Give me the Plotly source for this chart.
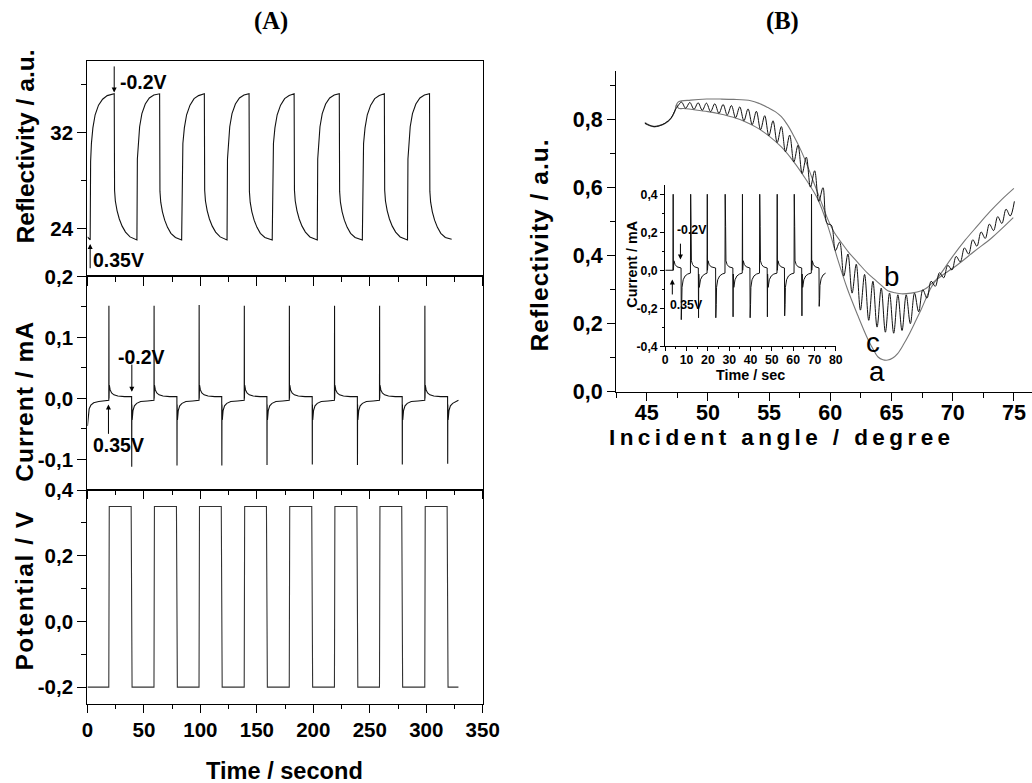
import plotly.graph_objects as go

# The photographed page is drawn at about 0.975 scale with an 8 px page margin,
# so layout positions are given in reference-picture pixels and mapped back.
S, M = 0.975, 8.0
W, H = 1050, 795

# ---------------- Panel A (top): reflectivity vs time ----------------
refl_t = [0.0, 1.2, 2.4, 2.8, 3.5, 4.8, 6.8, 9.8, 13.4, 17.5, 23.7,
          24.0, 24.7, 26.2, 28.2, 30.7, 33.7, 37.7, 43.8,
          44.2, 44.9, 46.2, 48.2, 51.2, 54.8, 58.8, 63.9,
          64.2, 64.9, 66.4, 68.4, 70.9, 73.9, 77.9, 83.4,
          83.8, 84.5, 85.8, 87.8, 90.8, 94.4, 98.4, 103.5,
          103.8, 104.5, 106.0, 108.0, 110.5, 113.5, 117.5, 123.6,
          124.0, 124.7, 126.0, 128.0, 131.0, 134.6, 138.6, 143.1,
          143.4, 144.1, 145.6, 147.6, 150.1, 153.1, 157.1, 163.6,
          164.0, 164.7, 166.0, 168.0, 171.0, 174.6, 178.6, 183.0,
          183.3, 184.0, 185.5, 187.5, 190.0, 193.0, 197.0, 203.5,
          203.9, 204.6, 205.9, 207.9, 210.9, 214.5, 218.5, 223.0,
          223.3, 224.0, 225.5, 227.5, 230.0, 233.0, 237.0, 243.4,
          243.8, 244.5, 245.8, 247.8, 250.8, 254.4, 258.4, 262.9,
          263.2, 263.9, 265.4, 267.4, 269.9, 272.9, 276.9, 283.4,
          283.8, 284.5, 285.8, 287.8, 290.8, 294.4, 298.4, 302.9,
          303.2, 303.9, 305.4, 307.4, 309.9, 312.9, 316.9, 322.5]
refl_v = [23.3, 23.15, 23.05, 29.6, 31.1, 32.4, 33.5, 34.3, 34.8, 35.1, 35.25,
          27.2, 26.3, 25.5, 24.8, 24.2, 23.7, 23.3, 23.05,
          29.8, 31.2, 32.5, 33.6, 34.4, 34.9, 35.15, 35.25,
          27.1, 26.2, 25.4, 24.7, 24.1, 23.6, 23.25, 23.05,
          29.7, 31.1, 32.4, 33.5, 34.3, 34.85, 35.1, 35.25,
          27.2, 26.3, 25.5, 24.8, 24.2, 23.7, 23.3, 23.05,
          29.8, 31.2, 32.5, 33.6, 34.4, 34.9, 35.15, 35.25,
          27.1, 26.2, 25.4, 24.7, 24.1, 23.6, 23.25, 23.05,
          29.7, 31.1, 32.4, 33.5, 34.3, 34.85, 35.1, 35.25,
          27.2, 26.3, 25.5, 24.8, 24.2, 23.7, 23.3, 23.05,
          29.8, 31.2, 32.5, 33.6, 34.4, 34.9, 35.15, 35.25,
          27.1, 26.2, 25.4, 24.7, 24.1, 23.6, 23.25, 23.05,
          29.7, 31.1, 32.4, 33.5, 34.3, 34.85, 35.1, 35.25,
          27.2, 26.3, 25.5, 24.8, 24.2, 23.7, 23.3, 23.05,
          29.8, 31.2, 32.5, 33.6, 34.4, 34.9, 35.15, 35.25,
          27.1, 26.2, 25.4, 24.7, 24.1, 23.6, 23.25, 23.1]

# ---------------- Panel A (middle): current vs time ----------------
cur_t = [0.0, 0.6, 1.5, 3.0, 5.5, 10.0, 15.0, 18.9,
         19.0, 19.1, 19.2, 19.35, 20.1, 21.4, 23.4, 26.9, 32.9, 39.1,
         39.2, 39.3, 39.4, 39.6, 40.3, 41.6, 43.6, 47.1, 53.1, 58.9,
         59.0, 59.1, 59.2, 59.35, 60.1, 61.4, 63.4, 66.9, 72.9, 79.2,
         79.3, 79.4, 79.5, 79.7, 80.4, 81.7, 83.7, 87.2, 93.2, 98.8,
         98.9, 99.0, 99.1, 99.25, 100.0, 101.3, 103.3, 106.8, 112.8, 118.9,
         119.0, 119.1, 119.2, 119.4, 120.1, 121.4, 123.4, 126.9, 132.9, 138.8,
         138.9, 139.0, 139.1, 139.25, 140.0, 141.3, 143.3, 146.8, 152.8, 158.9,
         159.0, 159.1, 159.2, 159.4, 160.1, 161.4, 163.4, 166.9, 172.9, 178.7,
         178.8, 178.9, 179.0, 179.15, 179.9, 181.2, 183.2, 186.7, 192.7, 199.0,
         199.1, 199.2, 199.3, 199.5, 200.2, 201.5, 203.5, 207.0, 213.0, 218.7,
         218.8, 218.9, 219.0, 219.15, 219.9, 221.2, 223.2, 226.7, 232.7, 239.0,
         239.1, 239.2, 239.3, 239.5, 240.2, 241.5, 243.5, 247.0, 253.0, 258.6,
         258.7, 258.8, 258.9, 259.05, 259.8, 261.1, 263.1, 266.6, 272.6, 278.7,
         278.8, 278.9, 279.0, 279.2, 279.9, 281.2, 283.2, 286.7, 292.7, 298.7,
         298.8, 298.9, 299.0, 299.15, 299.9, 301.2, 303.2, 306.7, 312.7, 318.9,
         319.0, 319.1, 319.2, 319.4, 320.1, 321.4, 323.4, 326.0, 328.5]
cur_v = [-0.045, -0.026, -0.017, -0.011, -0.007, -0.005, -0.004, -0.003,
         0.152, 0.0, 0.09, 0.022, 0.014, 0.009, 0.006, 0.004, 0.003, 0.003,
         -0.112, -0.01, -0.05, -0.035, -0.02, -0.012, -0.008, -0.005, -0.004, -0.003,
         0.152, 0.0, 0.09, 0.022, 0.014, 0.009, 0.006, 0.004, 0.003, 0.003,
         -0.11, -0.01, -0.05, -0.035, -0.02, -0.012, -0.008, -0.005, -0.004, -0.003,
         0.153, 0.0, 0.09, 0.022, 0.014, 0.009, 0.006, 0.004, 0.003, 0.003,
         -0.11, -0.01, -0.05, -0.035, -0.02, -0.012, -0.008, -0.005, -0.004, -0.003,
         0.152, 0.0, 0.09, 0.022, 0.014, 0.009, 0.006, 0.004, 0.003, 0.003,
         -0.109, -0.01, -0.05, -0.035, -0.02, -0.012, -0.008, -0.005, -0.004, -0.003,
         0.152, 0.0, 0.09, 0.022, 0.014, 0.009, 0.006, 0.004, 0.003, 0.003,
         -0.108, -0.01, -0.05, -0.035, -0.02, -0.012, -0.008, -0.005, -0.004, -0.003,
         0.152, 0.0, 0.09, 0.022, 0.014, 0.009, 0.006, 0.004, 0.003, 0.003,
         -0.109, -0.01, -0.05, -0.035, -0.02, -0.012, -0.008, -0.005, -0.004, -0.003,
         0.152, 0.0, 0.09, 0.022, 0.014, 0.009, 0.006, 0.004, 0.003, 0.003,
         -0.108, -0.01, -0.05, -0.035, -0.02, -0.012, -0.008, -0.005, -0.004, -0.003,
         0.152, 0.0, 0.09, 0.022, 0.014, 0.009, 0.006, 0.004, 0.003, 0.003,
         -0.107, -0.01, -0.05, -0.035, -0.02, -0.012, -0.008, -0.005, -0.003]

# ---------------- Panel A (bottom): potential vs time ----------------
pot_t = [0.0, 18.9, 19.3, 38.7, 39.5, 58.9, 59.3, 78.8, 79.6, 98.8, 99.2, 118.5,
         119.3, 138.8, 139.2, 158.5, 159.3, 178.7, 179.1, 198.6, 199.4, 218.7,
         219.1, 238.6, 239.4, 258.6, 259.0, 278.3, 279.1, 298.7, 299.1, 318.5,
         319.3, 328.5]
pot_v = [-0.2, -0.2, 0.35, 0.35, -0.2, -0.2, 0.35, 0.35, -0.2, -0.2, 0.35, 0.35,
         -0.2, -0.2, 0.35, 0.35, -0.2, -0.2, 0.35, 0.35, -0.2, -0.2,
         0.35, 0.35, -0.2, -0.2, 0.35, 0.35, -0.2, -0.2, 0.35, 0.35,
         -0.2, -0.2]

# ---------------- Panel B: reflectivity vs incident angle ----------------
ang_a = [44.85, 45.2, 45.6, 46.0, 46.5, 47.0, 47.3, 47.45, 47.6, 48.0, 49.0, 50.0,
         51.0, 52.0, 53.0, 54.0, 55.0, 56.0, 57.0, 58.0, 59.0, 59.8, 60.6, 61.4,
         62.25, 63.05, 63.5, 63.9, 64.3, 64.7, 65.1, 65.5, 66.0, 66.4, 67.0, 67.45,
         68.25, 69.1, 70.0, 71.0, 72.0, 73.0, 74.0, 75.0]
ref_a = [0.792, 0.785, 0.781, 0.783, 0.79, 0.806, 0.826, 0.845, 0.834, 0.833, 0.829, 0.824,
         0.817, 0.808, 0.795, 0.777, 0.752, 0.72, 0.677, 0.625, 0.565, 0.487, 0.39, 0.302,
         0.224, 0.156, 0.125, 0.102, 0.094, 0.093, 0.099, 0.112, 0.14, 0.166, 0.21, 0.244,
         0.307, 0.351, 0.398, 0.445, 0.487, 0.528, 0.565, 0.598]

ang_b = [44.85, 45.2, 45.6, 46.0, 46.5, 47.0, 47.3, 47.45, 47.6, 48.6, 49.9, 51.0,
         52.1, 53.5, 54.2, 54.9, 55.5, 56.0, 56.5, 57.05, 57.6, 58.15, 58.6, 58.97,
         59.4, 59.8, 60.3, 60.9, 61.5, 62.25, 63.0, 63.6, 64.2, 64.7, 65.3, 65.8,
         66.6, 67.45, 67.9, 68.25, 69.1, 70.45, 71.8, 73.2, 74.95]
ref_b = [0.789, 0.783, 0.779, 0.782, 0.789, 0.805, 0.826, 0.846, 0.853, 0.858, 0.861, 0.861,
         0.86, 0.856, 0.848, 0.836, 0.824, 0.809, 0.785, 0.75, 0.71, 0.663, 0.62, 0.585,
         0.545, 0.507, 0.47, 0.439, 0.41, 0.38, 0.35, 0.331, 0.312, 0.297, 0.291, 0.288,
         0.29, 0.297, 0.306, 0.317, 0.341, 0.375, 0.414, 0.453, 0.512]

ang_c = [44.85, 45.2, 45.6, 46.0, 46.5, 47.0, 47.3,
         47.5, 47.84, 48.18, 48.52, 48.86, 49.2, 49.54, 49.88, 50.22, 50.56,
         50.9, 51.24, 51.58, 51.92, 52.26, 52.6, 52.94, 53.28, 53.62, 53.96,
         54.3, 54.64, 54.98, 55.32, 55.66, 56.0, 56.34, 56.68, 57.02, 57.36,
         57.7, 58.04, 58.38, 58.72, 59.06, 59.4, 59.74, 60.08, 60.42, 60.76,
         61.1, 61.44, 61.78, 62.12, 62.46, 62.8, 63.14, 63.48, 63.82, 64.16,
         64.5, 64.84, 65.18, 65.52, 65.86, 66.2, 66.54, 66.88, 67.22, 67.56,
         67.9, 68.24, 68.58, 68.92, 69.26, 69.6, 69.94, 70.28, 70.62, 70.96,
         71.3, 71.64, 71.98, 72.32, 72.66, 73.0, 73.34, 73.68, 74.02, 74.36,
         74.7, 75.04]
ref_c = [0.79, 0.784, 0.78, 0.782, 0.79, 0.805, 0.827,
         0.838, 0.852, 0.834, 0.851, 0.831, 0.85, 0.828, 0.849, 0.824, 0.847,
         0.819, 0.845, 0.814, 0.842, 0.806, 0.838, 0.797, 0.832, 0.786, 0.825,
         0.771, 0.812, 0.753, 0.797, 0.733, 0.78, 0.706, 0.755, 0.676, 0.725,
         0.642, 0.69, 0.602, 0.65, 0.56, 0.6, 0.495, 0.49, 0.415, 0.44,
         0.34, 0.405, 0.29, 0.375, 0.24, 0.345, 0.21, 0.325, 0.19, 0.305,
         0.175, 0.29, 0.172, 0.285, 0.18, 0.285, 0.2, 0.29, 0.235, 0.3,
         0.275, 0.325, 0.31, 0.35, 0.335, 0.372, 0.358, 0.398, 0.382, 0.423,
         0.405, 0.447, 0.428, 0.47, 0.451, 0.493, 0.474, 0.515, 0.495, 0.537,
         0.517, 0.56]

# ---------------- Panel B inset: current vs time ----------------
ins_t = [0.0, 3.6, 3.7, 3.8, 3.9, 4.05, 4.6, 5.5, 7.4,
         7.5, 7.6, 7.7, 7.85, 8.4, 9.3, 10.5, 11.8,
         11.9, 12.0, 12.1, 12.25, 12.8, 13.7, 15.5,
         15.6, 15.7, 15.8, 15.95, 16.5, 17.4, 18.6, 19.6,
         19.7, 19.8, 19.9, 20.05, 20.6, 21.5, 23.6,
         23.7, 23.8, 23.9, 24.05, 24.6, 25.5, 26.7, 28.0,
         28.1, 28.2, 28.3, 28.45, 29.0, 29.9, 31.7,
         31.8, 31.9, 32.0, 32.15, 32.7, 33.6, 34.8, 36.1,
         36.2, 36.3, 36.4, 36.55, 37.1, 38.0, 39.7,
         39.8, 39.9, 40.0, 40.15, 40.7, 41.6, 42.8, 44.2,
         44.3, 44.4, 44.5, 44.65, 45.2, 46.1, 47.8,
         47.9, 48.0, 48.1, 48.25, 48.8, 49.7, 50.9, 52.4,
         52.5, 52.6, 52.7, 52.85, 53.4, 54.3, 55.9,
         56.0, 56.1, 56.2, 56.35, 56.9, 57.8, 59.0, 60.4,
         60.5, 60.6, 60.7, 60.85, 61.4, 62.3, 64.0,
         64.1, 64.2, 64.3, 64.45, 65.0, 65.9, 67.1, 68.5,
         68.6, 68.7, 68.8, 68.95, 69.5, 70.4, 72.1,
         72.2, 72.3, 72.4, 72.55, 73.1, 74.0, 75.2]
ins_i = [0.0, 0.0, 0.4, 0.0, 0.23, 0.05, 0.03, 0.018, 0.012,
         -0.26, -0.02, -0.18, -0.09, -0.05, -0.03, -0.02, -0.015,
         0.4, 0.0, 0.23, 0.05, 0.03, 0.018, 0.012,
         -0.25, -0.02, -0.18, -0.09, -0.05, -0.03, -0.02, -0.015,
         0.4, 0.0, 0.23, 0.05, 0.03, 0.018, 0.012,
         -0.25, -0.02, -0.18, -0.09, -0.05, -0.03, -0.02, -0.015,
         0.4, 0.0, 0.23, 0.05, 0.03, 0.018, 0.012,
         -0.245, -0.02, -0.18, -0.09, -0.05, -0.03, -0.02, -0.015,
         0.4, 0.0, 0.23, 0.05, 0.03, 0.018, 0.012,
         -0.25, -0.02, -0.18, -0.09, -0.05, -0.03, -0.02, -0.015,
         0.4, 0.0, 0.23, 0.05, 0.03, 0.018, 0.012,
         -0.245, -0.02, -0.18, -0.09, -0.05, -0.03, -0.02, -0.015,
         0.4, 0.0, 0.23, 0.05, 0.03, 0.018, 0.012,
         -0.24, -0.02, -0.18, -0.09, -0.05, -0.03, -0.02, -0.015,
         0.4, 0.0, 0.23, 0.05, 0.03, 0.018, 0.012,
         -0.24, -0.02, -0.18, -0.09, -0.05, -0.03, -0.02, -0.015,
         0.4, 0.0, 0.23, 0.05, 0.03, 0.018, 0.012,
         -0.19, -0.02, -0.15, -0.08, -0.045, -0.025, -0.015]

# ---------------- tick values / labels ----------------
time_ticks = [0, 50, 100, 150, 200, 250, 300, 350]
time_labels = ["0", "50", "100", "150", "200", "250", "300", "350"]
refl_ticks = [24, 32]
refl_labels = ["24", "32"]
cur_ticks = [-0.1, 0.0, 0.1, 0.2]
cur_labels = ["-0,1", "0,0", "0,1", "0,2"]
pot_ticks = [-0.2, 0.0, 0.2, 0.4]
pot_labels = ["-0,2", "0,0", "0,2", "0,4"]
ang_ticks = [45, 50, 55, 60, 65, 70, 75]
ang_labels = ["45", "50", "55", "60", "65", "70", "75"]
rb_ticks = [0.0, 0.2, 0.4, 0.6, 0.8]
rb_labels = ["0,0", "0,2", "0,4", "0,6", "0,8"]
ins_xticks = [0, 10, 20, 30, 40, 50, 60, 70, 80]
ins_xlabels = ["0", "10", "20", "30", "40", "50", "60", "70", "80"]
ins_yticks = [-0.4, -0.2, 0.0, 0.2, 0.4]
ins_ylabels = ["-0,4", "-0,2", "0,0", "0,2", "0,4"]

FONT = "Arial, 'Liberation Sans', sans-serif"


def sz(v):
    """size in reference pixels -> layout pixels"""
    return v / S


def bold(size):
    return dict(family=FONT, size=sz(size), color="black", weight="bold")


def line(color="#111", width=1.1, shape="linear"):
    return dict(color=color, width=width, shape=shape)


fig = go.Figure()
common = dict(mode="lines", showlegend=False, hoverinfo="skip")
fig.add_trace(go.Scatter(x=refl_t, y=refl_v, line=line(), xaxis="x", yaxis="y", **common))
fig.add_trace(go.Scatter(x=cur_t, y=cur_v, line=line(), xaxis="x2", yaxis="y2", **common))
fig.add_trace(go.Scatter(x=pot_t, y=pot_v, line=line("#333"), xaxis="x3", yaxis="y3", **common))
fig.add_trace(go.Scatter(x=ang_a, y=ref_a, line=line("#777", 1.1, "spline"), xaxis="x4", yaxis="y4", **common))
fig.add_trace(go.Scatter(x=ang_b, y=ref_b, line=line("#777", 1.1, "spline"), xaxis="x4", yaxis="y4", **common))
fig.add_trace(go.Scatter(x=ang_c, y=ref_c, line=line("#111", 1.0, "spline"), xaxis="x4", yaxis="y4", **common))
fig.add_trace(go.Scatter(x=ins_t, y=ins_i, line=line("#111", 1.0), xaxis="x5", yaxis="y5", **common))


def lay(r):
    return r / S - M


def px_x(r):
    return min(1.0, max(0.0, lay(r) / W))


def px_y(r):
    return min(1.0, max(0.0, 1 - lay(r) / H))


axA = dict(showline=True, linecolor="black", linewidth=1, mirror=True, ticks="outside",
           tickcolor="black", tickwidth=1, showgrid=False, zeroline=False)
axB = dict(showline=True, linecolor="black", linewidth=1, mirror=False, ticks="outside",
           tickcolor="black", tickwidth=1, showgrid=False, zeroline=False)
A_dom = [px_x(89), px_x(483)]

# panel B angle axis: 42.5 deg at x=616 px, 12.2 px per degree, running to the right edge
B_left = 616
B_range = [42.5, 42.5 + (W - lay(B_left)) / sz(12.2)]


def xA(anchor, labels):
    return dict(domain=A_dom, range=[0, 350], anchor=anchor, tickmode="array",
                tickvals=time_ticks, ticktext=time_labels, showticklabels=labels,
                ticklen=sz(8), tickfont=bold(20),
                minor=dict(dtick=25, tick0=0, ticks="outside", ticklen=sz(4), tickcolor="black"),
                **axA)


fig.update_layout(
    width=W, height=H, margin=dict(l=0, r=0, t=0, b=0),
    paper_bgcolor="white", plot_bgcolor="rgba(0,0,0,0)",
    xaxis=xA("y", False),
    xaxis2=xA("y2", False),
    xaxis3=xA("y3", True),
    yaxis=dict(domain=[px_y(274), px_y(57)], range=[20, 38], anchor="x", tickmode="array",
               tickvals=refl_ticks, ticktext=refl_labels, ticklen=sz(9), tickfont=bold(20),
               minor=dict(dtick=4, tick0=20, ticks="outside", ticklen=sz(5), tickcolor="black"), **axA),
    yaxis2=dict(domain=[px_y(489), px_y(274)], range=[-0.15, 0.2], anchor="x2", tickmode="array",
                tickvals=cur_ticks, ticktext=cur_labels, ticklen=sz(9), tickfont=bold(20),
                minor=dict(dtick=0.05, tick0=0, ticks="outside", ticklen=sz(5), tickcolor="black"), **axA),
    yaxis3=dict(domain=[px_y(704), px_y(489)], range=[-0.25, 0.4], anchor="x3", tickmode="array",
                tickvals=pot_ticks, ticktext=pot_labels, ticklen=sz(9), tickfont=bold(20),
                minor=dict(dtick=0.1, tick0=0, ticks="outside", ticklen=sz(5), tickcolor="black"), **axA),
    xaxis4=dict(domain=[px_x(B_left), 1.0], range=B_range, anchor="y4", tickmode="array",
                tickvals=ang_ticks, ticktext=ang_labels, ticklen=sz(8), tickfont=bold(21),
                minor=dict(dtick=2.5, tick0=42.5, ticks="outside", ticklen=sz(5), tickcolor="black"), **axB),
    yaxis4=dict(domain=[px_y(390), px_y(66.7)], range=[0, 0.945], anchor="x4", tickmode="array",
                tickvals=rb_ticks, ticktext=rb_labels, ticklen=sz(8), tickfont=bold(21),
                minor=dict(dtick=0.1, tick0=0, ticks="outside", ticklen=sz(5), tickcolor="black"), **axB),
    xaxis5=dict(domain=[px_x(665), px_x(835)], range=[0, 80], anchor="y5", tickmode="array",
                tickvals=ins_xticks, ticktext=ins_xlabels, ticklen=sz(4), tickfont=bold(12),
                minor=dict(dtick=5, tick0=0, ticks="outside", ticklen=sz(2), tickcolor="black"), **axB),
    yaxis5=dict(domain=[px_y(344.3), px_y(181.7)], range=[-0.4, 0.45], anchor="x5", tickmode="array",
                tickvals=ins_yticks, ticktext=ins_ylabels, ticklen=sz(4), tickfont=bold(12),
                minor=dict(dtick=0.1, tick0=0, ticks="outside", ticklen=sz(2), tickcolor="black"), **axB),
)

# pull tick labels up towards their axes, as in the reference
try:
    fig.layout.xaxis4.ticklabelstandoff = -7
    fig.layout.xaxis5.ticklabelstandoff = -2
except (ValueError, AttributeError):
    pass

ann = []


def text(x, y, s, font, xref="paper", yref="paper", angle=0, xanchor="center", yanchor="middle"):
    ann.append(dict(x=x, y=y, xref=xref, yref=yref, text=s, showarrow=False, font=font,
                    textangle=angle, xanchor=xanchor, yanchor=yanchor))


def arrow(x, y, ay, xref, yref):
    ann.append(dict(x=x, y=y, xref=xref, yref=yref, text="", showarrow=True, arrowhead=2,
                    arrowsize=1, arrowwidth=1, arrowcolor="black", ax=0, ay=sz(ay), standoff=0))


serif = dict(family="'Liberation Serif', 'Times New Roman', serif", size=sz(24), color="black")
# panel headings
text(px_x(272), px_y(17), "<b>(A)</b>", serif)
text(px_x(782), px_y(17), "<b>(B)</b>", serif)

# panel A axis titles
text(px_x(27), px_y(143), "Reflectivity / a.u.", bold(24), angle=-90)
text(px_x(26), px_y(400), "<span style='letter-spacing:1px'>Current / mA</span>", bold(24), angle=-90)
text(px_x(26), px_y(590), "<span style='letter-spacing:1.5px'>Potential / V</span>", bold(24), angle=-90)
text(px_x(285), px_y(772), "Time / second", bold(23))

# panel B axis titles
text(px_x(540), px_y(242), "<span style='letter-spacing:1px'>Reflectivity / a.u.</span>", bold(24), angle=-90)
text(px_x(781), px_y(436), "<span style='letter-spacing:4.4px'><b>Incident angle / degree</b></span>", bold(22))
text(px_x(631), px_y(262), "Current / mA", bold(14), angle=-90)
text(px_x(750), px_y(373), "Time / sec", bold(14))

# curve labels
reg = dict(family=FONT, size=sz(27), color="black")
text(65.0, 0.34, "b", reg, "x4", "y4")
text(63.5, 0.146, "c", reg, "x4", "y4")
text(63.8, 0.058, "a", reg, "x4", "y4")

# annotations panel A top
text(27.2, 36.2, "-0.2V", bold(19), "x", "y", xanchor="left")
arrow(23.7, 35.35, -27, "x", "y")
text(3.4, 21.4, "0.35V", bold(19), "x", "y", xanchor="left")
arrow(2.4, 22.7, 25, "x", "y")
# panel A middle
text(25.7, 0.068, "-0.2V", bold(19), "x2", "y2", xanchor="left")
arrow(39.3, 0.011, -28, "x2", "y2")
text(2.7, -0.077, "0.35V", bold(19), "x2", "y2", xanchor="left")
arrow(18.6, -0.01, 30, "x2", "y2")
# inset
text(4.7, 0.212, "-0.2V", bold(12), "x5", "y5", xanchor="left")
arrow(7.1, 0.056, -17, "x5", "y5")
text(1.4, -0.185, "0.35V", bold(12), "x5", "y5", xanchor="left")
arrow(3.3, -0.049, 16, "x5", "y5")

fig.update_layout(annotations=ann)
fig.write_html("out.html")
